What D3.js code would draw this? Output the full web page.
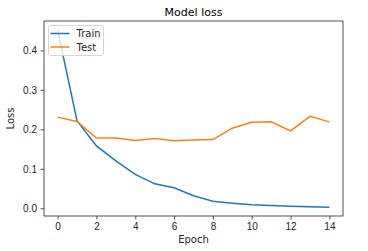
<!DOCTYPE html>
<html>
<head>
<meta charset="utf-8">
<script src="https://cdn.jsdelivr.net/npm/d3@7"></script>
<style>
  body { margin: 0; background: #fff; }
  svg { font-family: "DejaVu Sans", sans-serif; }
</style>
</head>
<body>
<svg id="chart" width="368" height="251"></svg>
<script>
const epochs = d3.range(0, 15);
const trainLoss = [0.452, 0.222, 0.158, 0.120, 0.086, 0.062, 0.052, 0.032, 0.018, 0.013, 0.009, 0.007, 0.005, 0.004, 0.003];
const testLoss = [0.231, 0.220, 0.178, 0.178, 0.172, 0.177, 0.171, 0.173, 0.174, 0.203, 0.218, 0.219, 0.196, 0.233, 0.219];
const xTicks = [0, 2, 4, 6, 8, 10, 12, 14];
const yTicks = [0.0, 0.1, 0.2, 0.3, 0.4];
const seriesNames = ["Train", "Test"];
const colors = ["#1f77b4", "#ff7f0e"];

const svg = d3.select("#chart");
const margin = { top: 21, right: 25, bottom: 35, left: 44 };
const width = 368 - margin.left - margin.right;
const height = 251 - margin.top - margin.bottom;

// matplotlib style 5% margins
const allY = trainLoss.concat(testLoss);
const yMin = d3.min(allY), yMax = d3.max(allY);
const yPad = (yMax - yMin) * 0.05;
const x = d3.scaleLinear().domain([-0.7, 14.7]).range([0, width]);
const y = d3.scaleLinear().domain([yMin - yPad, yMax + yPad]).range([height, 0]);

const g = svg.append("g").attr("transform", `translate(${margin.left},${margin.top})`);

const line = d3.line().x((d, i) => x(epochs[i])).y(d => y(d));
[trainLoss, testLoss].forEach((s, i) => {
    g.append("path")
        .datum(s)
        .attr("fill", "none")
        .attr("stroke", colors[i])
        .attr("stroke-width", 1.5)
        .attr("d", line);
});

const xAxis = g.append("g")
    .attr("transform", `translate(0,${height})`)
    .call(d3.axisBottom(x).tickValues(xTicks).tickSize(3.5).tickPadding(3).tickFormat(d3.format("d")));
const yAxis = g.append("g")
    .call(d3.axisLeft(y).tickValues(yTicks).tickSize(3.5).tickPadding(3.5).tickFormat(d3.format(".1f")));
[xAxis, yAxis].forEach(a => {
    a.select(".domain").remove();
    a.selectAll("text").style("font-size", "10px").attr("fill", "#262626");
    a.selectAll("line").attr("stroke", "#262626").attr("stroke-width", 0.8);
});

// frame
g.append("rect")
    .attr("width", width).attr("height", height)
    .attr("fill", "none").attr("stroke", "#262626").attr("stroke-width", 0.8);

svg.append("text")
    .attr("x", margin.left + width / 2).attr("y", 16)
    .attr("text-anchor", "middle")
    .style("font-size", "11px").attr("fill", "#000")
    .text("Model loss");

svg.append("text")
    .attr("x", margin.left + width / 2).attr("y", 243)
    .attr("text-anchor", "middle")
    .style("font-size", "10px").attr("fill", "#262626")
    .text("Epoch");

svg.append("text")
    .attr("transform", `translate(14,${margin.top + height / 2}) rotate(-90)`)
    .attr("text-anchor", "middle")
    .style("font-size", "10px").attr("fill", "#262626")
    .text("Loss");

// legend
const legend = g.append("g").attr("transform", "translate(4.5,4.5)");
legend.append("rect")
    .attr("width", 55).attr("height", 30).attr("rx", 2)
    .attr("fill", "#fff").attr("fill-opacity", 0.8)
    .attr("stroke", "#ccc").attr("stroke-width", 0.8);
seriesNames.forEach((name, i) => {
    legend.append("line")
        .attr("x1", 2).attr("x2", 21)
        .attr("y1", 8 + i * 13.5).attr("y2", 8 + i * 13.5)
        .attr("stroke", colors[i]).attr("stroke-width", 1.5);
    legend.append("text")
        .attr("x", 28).attr("y", 11.5 + i * 13.5)
        .style("font-size", "10px").attr("fill", "#262626")
        .text(name);
});
</script>
</body>
</html>
